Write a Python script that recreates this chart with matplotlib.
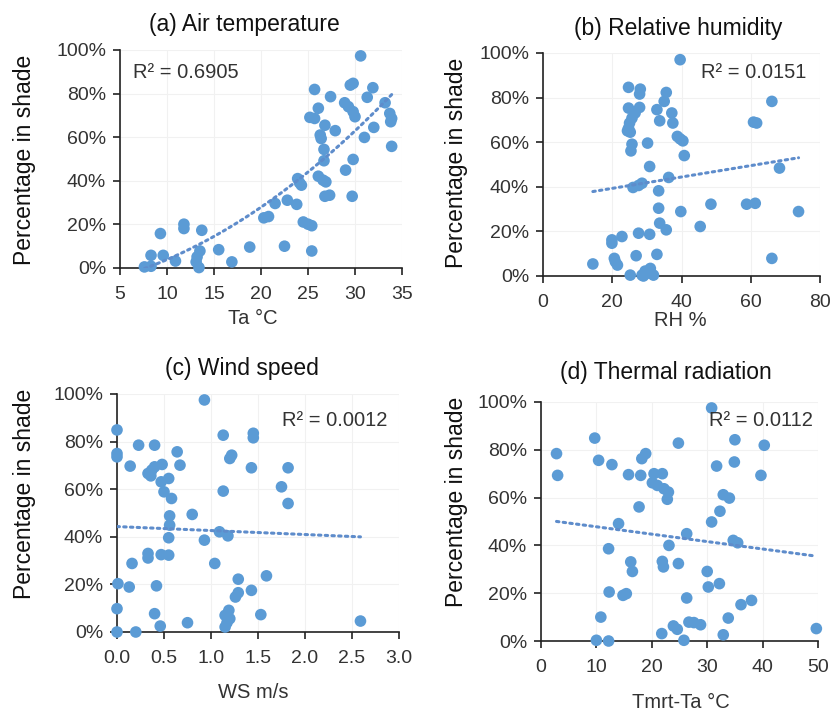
import matplotlib
matplotlib.use('Agg')
import matplotlib.pyplot as plt
from matplotlib.ticker import FuncFormatter
import numpy as np

plt.rcParams['font.family'] = ['Liberation Sans', 'DejaVu Sans']

# (a) air temperature vs percentage in shade
ta_x = [30.6, 25.7, 27.4, 29.8, 29.5, 31.9, 31.3, 33.2, 28.9, 29.3, 29.8, 30.0,
        26.1, 25.2, 25.7, 33.7, 33.9, 33.8, 26.8, 27.9, 32.0, 26.3, 26.4, 31.0,
        26.7, 33.9, 26.7, 29.8, 29.0, 26.1, 26.6, 26.9, 23.9, 24.1, 24.3, 26.8,
        27.3, 29.7, 21.5, 22.8, 23.8, 20.3, 20.8, 24.5, 25.0, 25.4, 9.3, 11.8,
        11.8, 13.7, 8.3, 9.6, 10.9, 13.5, 13.2, 13.1, 13.4, 7.6, 8.3, 15.5,
        16.9, 18.8, 22.5, 25.4]
ta_y = [97.3, 81.9, 78.6, 84.7, 83.9, 82.7, 78.3, 75.8, 75.8, 74.0, 71.7, 69.4,
        73.3, 69.1, 68.6, 70.9, 68.6, 67.1, 65.5, 63.0, 64.5, 61.0, 59.4, 59.9,
        54.4, 55.8, 49.2, 49.8, 44.9, 42.1, 40.3, 39.5, 41.0, 39.1, 38.0, 32.9,
        33.4, 32.9, 29.6, 31.1, 29.2, 23.0, 23.6, 21.1, 20.1, 19.4, 15.8, 20.1,
        18.1, 17.3, 5.8, 5.8, 3.2, 7.8, 5.1, 2.8, 0.2, 0.5, 0.8, 8.4,
        2.8, 9.6, 10.0, 7.8]

# (b) relative humidity
rh_x = [39.6, 24.7, 28.1, 27.9, 35.6, 35.0, 66.1, 24.7, 27.9, 26.6, 25.7, 25.0,
        24.7, 25.2, 24.4, 32.9, 37.2, 37.5, 33.7, 60.8, 61.7, 38.8, 39.6, 40.4,
        25.7, 25.4, 30.2, 40.8, 30.8, 68.3, 36.3, 26.0, 27.6, 28.6, 33.4, 33.4,
        39.8, 48.5, 58.8, 61.3, 73.8, 33.7, 35.6, 45.4, 27.6, 30.8, 19.9, 19.9,
        22.8, 14.4, 20.6, 20.9, 21.5, 26.9, 32.9, 66.1, 25.2, 28.6, 29.5, 31.0,
        31.9, 30.0, 29.0]
rh_y = [97.0, 84.6, 83.8, 81.6, 82.3, 78.3, 78.3, 75.3, 75.6, 73.1, 70.8, 68.6,
        66.3, 64.5, 65.1, 74.6, 73.1, 68.6, 69.6, 69.0, 68.6, 62.6, 61.5, 60.6,
        59.1, 56.1, 59.6, 54.0, 49.1, 48.4, 44.2, 39.7, 40.6, 41.6, 38.2, 30.4,
        28.9, 32.2, 32.2, 32.6, 28.9, 23.7, 20.7, 22.2, 19.2, 18.7, 16.2, 14.7,
        17.7, 5.4, 7.9, 6.4, 4.9, 9.1, 9.7, 7.9, 0.4, 0.4, 2.2, 3.4,
        0.4, 1.2, 0.0]

# (c) wind speed
ws_x = [0.93, 0.00, 0.00, 0.00, 0.23, 0.40, 0.64, 0.14, 0.67, 0.33, 0.37, 0.40,
        0.48, 0.36, 0.47, 0.55, 0.50, 0.58, 1.13, 1.45, 1.45, 1.22, 1.20, 1.43,
        1.82, 1.75, 1.82, 1.13, 0.56, 0.56, 0.55, 0.80, 0.93, 1.09, 1.18, 0.33,
        0.33, 0.47, 0.55, 0.16, 1.04, 0.01, 0.13, 0.42, 1.29, 1.59, 1.29, 1.26,
        1.43, 0.00, 0.40, 0.46, 0.75, 1.19, 1.15, 1.20, 1.17, 1.15, 1.53, 2.59,
        0.00, 0.20]
ws_y = [97.5, 84.9, 75.0, 73.6, 78.5, 78.5, 75.7, 69.7, 70.1, 66.6, 68.0, 69.4,
        70.4, 65.6, 63.1, 64.5, 58.9, 56.1, 82.7, 83.5, 81.6, 74.3, 72.9, 69.0,
        69.0, 61.0, 54.0, 59.2, 48.8, 44.9, 39.6, 49.4, 38.6, 42.1, 40.4, 33.0,
        31.1, 32.5, 32.3, 28.8, 28.8, 20.3, 18.9, 19.4, 22.2, 23.6, 16.5, 14.7,
        17.5, 9.8, 7.7, 2.5, 3.9, 9.1, 7.0, 5.6, 3.9, 2.1, 7.3, 4.6,
        0.0, 0.0]

# (d) thermal radiation
tr_x = [30.8, 2.8, 3.0, 9.7, 10.4, 12.8, 15.8, 18.0, 18.2, 18.9, 24.8, 20.4,
        21.9, 20.1, 21.0, 22.2, 23.0, 22.8, 17.7, 14.0, 12.2, 16.2, 16.5, 12.3,
        14.8, 15.4, 10.8, 10.0, 12.2, 21.9, 22.1, 23.1, 24.8, 26.3, 26.3, 21.8,
        23.9, 24.6, 25.8, 26.7, 27.6, 28.8, 30.0, 30.2, 32.2, 30.8, 32.3, 31.7,
        32.9, 34.0, 34.9, 35.0, 34.7, 35.5, 32.9, 33.8, 36.1, 38.0, 39.7, 40.3,
        49.7]
tr_y = [97.5, 78.4, 69.3, 84.9, 75.6, 73.8, 69.6, 69.3, 76.3, 78.4, 82.8, 70.0,
        70.0, 66.2, 65.1, 63.7, 62.3, 59.3, 56.1, 49.1, 38.6, 33.1, 29.1, 20.5,
        19.1, 19.8, 10.0, 0.3, 0.0, 33.3, 31.0, 40.0, 32.4, 44.9, 18.0, 3.1,
        6.3, 4.9, 0.3, 7.9, 7.7, 6.8, 29.1, 22.6, 24.0, 49.8, 54.3, 73.2,
        61.2, 59.8, 74.9, 84.2, 42.1, 41.1, 2.6, 9.6, 15.2, 17.0, 69.3, 81.9,
        5.2]

# trendline coefficients (highest power first)
trend_a = [0.0550, 0.752, -9.15]
trend_b = [0.255, 34.2]
trend_c = [-1.67, 44.3]
trend_d = [-0.31, 50.9]

titles = ['(a) Air temperature', '(b) Relative humidity', '(c) Wind speed', '(d) Thermal radiation']
xlabels = ['Ta \u00b0C', 'RH %', 'WS m/s', 'Tmrt-Ta \u00b0C']
r2_text = ['R\u00b2 = 0.6905', 'R\u00b2 = 0.0151', 'R\u00b2 = 0.0012', 'R\u00b2 = 0.0112']
xticks = [[5, 10, 15, 20, 25, 30, 35], [0, 20, 40, 60, 80],
          [0.0, 0.5, 1.0, 1.5, 2.0, 2.5, 3.0], [0, 10, 20, 30, 40, 50]]
yticks = [0, 20, 40, 60, 80, 100]

dot = '#5b9bd5'
txt = '#333333'

fig = plt.figure(figsize=(8.32, 7.11), dpi=100)
W, H = 832.0, 711.0

# axes boxes in pixels: left, right, top, bottom
boxes = [(120, 402, 50, 268), (543, 820, 53, 276), (117, 399, 394, 632), (541, 818, 402, 641)]
title_pos = [(244, 25), (678, 28), (242, 368), (666, 372)]
ylab_pos = [(25, 160), (456, 163), (25, 494), (456, 502)]
xlab_pos = [(253, 319), (680, 321), (253, 693), (681, 702)]
r2_pos = [(133, 73, 'left'), (806, 73, 'right'), (387, 420, 'right'), (813, 420, 'right')]

data = [(ta_x, ta_y), (rh_x, rh_y), (ws_x, ws_y), (tr_x, tr_y)]
trends = [trend_a, trend_b, trend_c, trend_d]

for i in range(4):
    l, r, t, b = boxes[i]
    ax = fig.add_axes([l / W, 1 - b / H, (r - l) / W, (b - t) / H])
    x = np.array(data[i][0])
    y = np.array(data[i][1])

    ax.grid(True, color='#f1f1f1', linewidth=0.8)
    ax.set_axisbelow(True)
    ax.scatter(x, y, s=70, color=dot, edgecolors='none', zorder=3, clip_on=False)

    # dotted trendline over the range of the data
    xs = np.linspace(x.min(), x.max(), 100)
    ax.plot(xs, np.polyval(trends[i], xs), color='#5e8ccb', linewidth=2.2,
            linestyle=(0, (0.8, 1.4)), dash_capstyle='round', zorder=4)

    ax.set_xlim(xticks[i][0], xticks[i][-1])
    ax.set_ylim(0, 100)
    ax.set_xticks(xticks[i])
    ax.set_yticks(yticks)
    if i == 2:
        ax.xaxis.set_major_formatter(FuncFormatter(lambda v, p: '%.1f' % v))
    ax.yaxis.set_major_formatter(FuncFormatter(lambda v, p: '%d%%' % v))

    for s in ['top', 'right']:
        ax.spines[s].set_visible(False)
    for s in ['left', 'bottom']:
        ax.spines[s].set_color('#222222')
        ax.spines[s].set_linewidth(1.2)
    ax.tick_params(direction='out', length=5, width=1.2, color='#222222',
                   labelsize=14, labelcolor=txt, pad=5)
    ax.tick_params(axis='x', pad=8)

    fig.text(title_pos[i][0] / W, 1 - title_pos[i][1] / H, titles[i],
             ha='center', va='center', fontsize=16.5, color='#111111')
    fig.text(ylab_pos[i][0] / W, 1 - ylab_pos[i][1] / H, 'Percentage in shade',
             ha='center', va='center', rotation=90, fontsize=16.5, color='#111111')
    fig.text(xlab_pos[i][0] / W, 1 - xlab_pos[i][1] / H, xlabels[i],
             ha='center', va='center', fontsize=14.5, color=txt)
    px, py, al = r2_pos[i]
    fig.text(px / W, 1 - py / H, r2_text[i], ha=al, va='center',
             fontsize=14.5, color=txt)

fig.savefig('out.png', dpi=100)
